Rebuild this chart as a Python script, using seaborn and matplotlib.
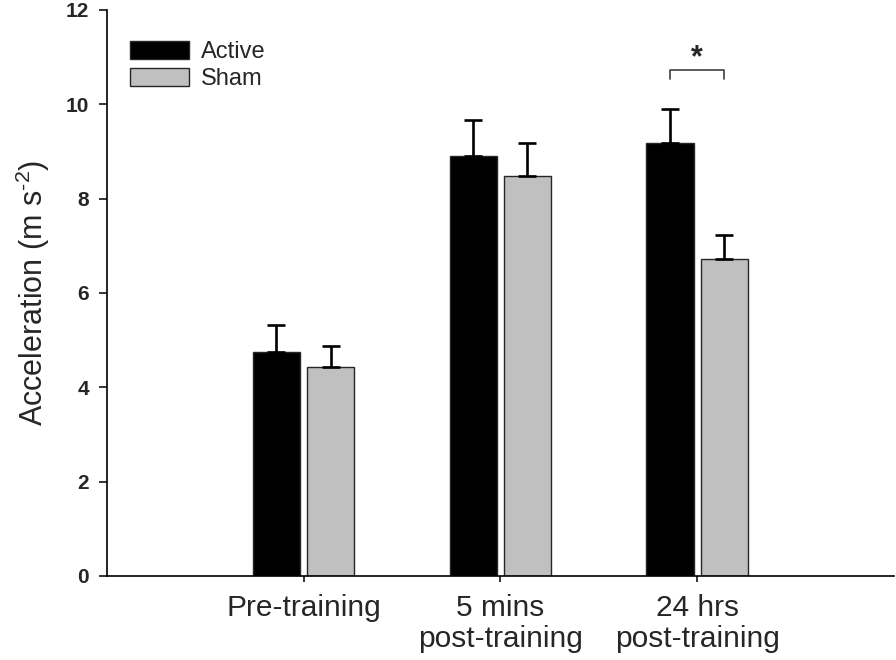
import seaborn as sns
import matplotlib.pyplot as plt
import pandas as pd

# valores
times = ["Pre-training", "5 mins\npost-training", "24 hrs\npost-training"]
groups = ["Active", "Sham"]
active_mean = [4.75, 8.90, 9.17]
active_err = [0.57, 0.76, 0.72]
sham_mean = [4.42, 8.47, 6.71]
sham_err = [0.46, 0.71, 0.51]
yticks = [0, 2, 4, 6, 8, 10, 12]

df = pd.DataFrame({
    "time": times * 2,
    "group": [groups[0]] * 3 + [groups[1]] * 3,
    "accel": active_mean + sham_mean,
})

sns.set_style("ticks")
plt.rcParams["font.family"] = ["Liberation Sans", "DejaVu Sans"]
plt.rcParams["mathtext.fontset"] = "custom"
plt.rcParams["mathtext.rm"] = "Liberation Sans"

fig = plt.figure(figsize=(8.96, 6.6), dpi=100)
ax = fig.add_axes([0.119, 0.1273, 0.879, 0.8576])

sns.barplot(data=df, x="time", y="accel", hue="group", order=times, hue_order=groups,
            palette=["black", "#c0c0c0"], width=0.55, gap=0.12, errorbar=None,
            edgecolor="#262626", linewidth=1.0, ax=ax)

# barras de erro so para cima
for cont, errs in zip(ax.containers, [active_err, sham_err]):
    xs = [b.get_x() + b.get_width() / 2 for b in cont]
    ys = [b.get_height() for b in cont]
    ax.errorbar(xs, ys, yerr=[[0] * len(errs), errs], fmt="none", ecolor="black",
                elinewidth=1.9, capsize=6.5, capthick=1.9, zorder=1)

# marca de significancia
b1 = ax.containers[0][2]
b2 = ax.containers[1][2]
x1 = b1.get_x() + b1.get_width() / 2
x2 = b2.get_x() + b2.get_width() / 2
ax.plot([x1, x1, x2, x2], [10.53, 10.72, 10.72, 10.53], color="#404040", lw=1.2)
ax.text((x1 + x2) / 2, 10.98, "*", ha="center", va="center", fontsize=22, fontweight="bold")

ax.set_xlim(-1, 3)
ax.set_ylim(0, 12)
ax.set_yticks(yticks)
ax.set_xlabel("")
ax.set_ylabel("Acceleration (m s$^{\\mathregular{\u2010}2}$)", fontsize=22, labelpad=10)
ax.tick_params(axis="y", labelsize=15, length=5.8, width=1.1, pad=7, color="black")
ax.tick_params(axis="x", labelsize=21.5, length=4.3, width=1.1, pad=9, color="black")
for lab in ax.get_yticklabels():
    lab.set_fontweight("bold")
for lab in ax.get_xticklabels():
    lab.set_linespacing(1.12)
sns.despine(ax=ax)
for s in ["left", "bottom"]:
    ax.spines[s].set_linewidth(1.2)
    ax.spines[s].set_color("black")

ax.legend(loc="upper left", bbox_to_anchor=(0.03, 0.945), frameon=False, fontsize=17,
          handlelength=2.5, handleheight=0.8, handletextpad=0.5, labelspacing=0.2,
          borderpad=0, borderaxespad=0)

fig.savefig("out.png", dpi=100)
